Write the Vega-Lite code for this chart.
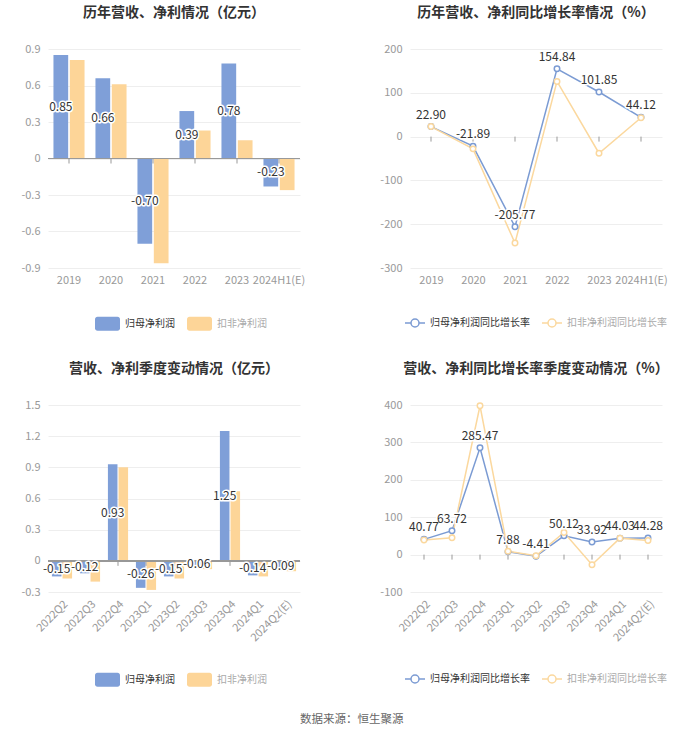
{
  "$schema": "https://vega.github.io/schema/vega-lite/v6.json",
  "background": "white",
  "padding": {"left": 20, "top": 6, "right": 5, "bottom": 5},
  "title": {"text": "数据来源：恒生聚源", "orient": "bottom", "anchor": "middle", "fontSize": 11.5, "fontWeight": "normal", "color": "#666", "offset": 27, "dx": 7},
  "datasets": {
    "tl": [
      {"p": "2019", "s": "归母净利润", "v": 0.85},
      {"p": "2020", "s": "归母净利润", "v": 0.66},
      {"p": "2021", "s": "归母净利润", "v": -0.70},
      {"p": "2022", "s": "归母净利润", "v": 0.39},
      {"p": "2023", "s": "归母净利润", "v": 0.78},
      {"p": "2024H1(E)", "s": "归母净利润", "v": -0.23},
      {"p": "2019", "s": "扣非净利润", "v": 0.81},
      {"p": "2020", "s": "扣非净利润", "v": 0.61},
      {"p": "2021", "s": "扣非净利润", "v": -0.86},
      {"p": "2022", "s": "扣非净利润", "v": 0.23},
      {"p": "2023", "s": "扣非净利润", "v": 0.15},
      {"p": "2024H1(E)", "s": "扣非净利润", "v": -0.26}
    ],
    "tr": [
      {"p": "2019", "s": "归母净利润同比增长率", "v": 22.90},
      {"p": "2020", "s": "归母净利润同比增长率", "v": -21.89},
      {"p": "2021", "s": "归母净利润同比增长率", "v": -205.77},
      {"p": "2022", "s": "归母净利润同比增长率", "v": 154.84},
      {"p": "2023", "s": "归母净利润同比增长率", "v": 101.85},
      {"p": "2024H1(E)", "s": "归母净利润同比增长率", "v": 44.12},
      {"p": "2019", "s": "扣非净利润同比增长率", "v": 22.9},
      {"p": "2020", "s": "扣非净利润同比增长率", "v": -28},
      {"p": "2021", "s": "扣非净利润同比增长率", "v": -243},
      {"p": "2022", "s": "扣非净利润同比增长率", "v": 126},
      {"p": "2023", "s": "扣非净利润同比增长率", "v": -38},
      {"p": "2024H1(E)", "s": "扣非净利润同比增长率", "v": 43}
    ],
    "bl": [
      {"p": "2022Q2", "s": "归母净利润", "v": -0.15},
      {"p": "2022Q3", "s": "归母净利润", "v": -0.12},
      {"p": "2022Q4", "s": "归母净利润", "v": 0.93},
      {"p": "2023Q1", "s": "归母净利润", "v": -0.26},
      {"p": "2023Q2", "s": "归母净利润", "v": -0.15},
      {"p": "2023Q3", "s": "归母净利润", "v": -0.06},
      {"p": "2023Q4", "s": "归母净利润", "v": 1.25},
      {"p": "2024Q1", "s": "归母净利润", "v": -0.14},
      {"p": "2024Q2(E)", "s": "归母净利润", "v": -0.09},
      {"p": "2022Q2", "s": "扣非净利润", "v": -0.17},
      {"p": "2022Q3", "s": "扣非净利润", "v": -0.20},
      {"p": "2022Q4", "s": "扣非净利润", "v": 0.90},
      {"p": "2023Q1", "s": "扣非净利润", "v": -0.28},
      {"p": "2023Q2", "s": "扣非净利润", "v": -0.17},
      {"p": "2023Q3", "s": "扣非净利润", "v": -0.08},
      {"p": "2023Q4", "s": "扣非净利润", "v": 0.67},
      {"p": "2024Q1", "s": "扣非净利润", "v": -0.15},
      {"p": "2024Q2(E)", "s": "扣非净利润", "v": -0.10}
    ],
    "br": [
      {"p": "2022Q2", "s": "归母净利润同比增长率", "v": 40.77},
      {"p": "2022Q3", "s": "归母净利润同比增长率", "v": 63.72},
      {"p": "2022Q4", "s": "归母净利润同比增长率", "v": 285.47},
      {"p": "2023Q1", "s": "归母净利润同比增长率", "v": 7.88},
      {"p": "2023Q2", "s": "归母净利润同比增长率", "v": -4.41},
      {"p": "2023Q3", "s": "归母净利润同比增长率", "v": 50.12},
      {"p": "2023Q4", "s": "归母净利润同比增长率", "v": 33.92},
      {"p": "2024Q1", "s": "归母净利润同比增长率", "v": 44.03},
      {"p": "2024Q2(E)", "s": "归母净利润同比增长率", "v": 44.28},
      {"p": "2022Q2", "s": "扣非净利润同比增长率", "v": 39},
      {"p": "2022Q3", "s": "扣非净利润同比增长率", "v": 45},
      {"p": "2022Q4", "s": "扣非净利润同比增长率", "v": 398},
      {"p": "2023Q1", "s": "扣非净利润同比增长率", "v": 9},
      {"p": "2023Q2", "s": "扣非净利润同比增长率", "v": -3},
      {"p": "2023Q3", "s": "扣非净利润同比增长率", "v": 59},
      {"p": "2023Q4", "s": "扣非净利润同比增长率", "v": -27},
      {"p": "2024Q1", "s": "扣非净利润同比增长率", "v": 44},
      {"p": "2024Q2(E)", "s": "扣非净利润同比增长率", "v": 38}
    ]
  },
  "columns": 2,
  "concat": [
    {
      "title": "历年营收、净利情况（亿元）",
      "width": 252, "height": 219,
      "data": {"name": "tl"},
      "layer": [
        {"layer": [
          {"mark": {"type": "bar"},
           "encoding": {
             "x": {"field": "p", "type": "nominal", "sort": null, "scale": {"paddingInner": 0.26, "paddingOuter": 0.13}, "axis": {"title": null, "labelAngle": 0}},
             "xOffset": {"field": "s", "type": "nominal", "sort": ["归母净利润", "扣非净利润"], "scale": {"paddingInner": 0.1}},
             "y": {"field": "v", "type": "quantitative", "scale": {"domain": [-0.9, 0.9], "nice": false}, "axis": {"title": null, "values": [-0.9, -0.6, -0.3, 0, 0.3, 0.6, 0.9], "tickCount": 20, "labelExpr": "toString(datum.value)", "labelOverlap": false}},
             "color": {"field": "s", "type": "nominal", "sort": ["归母净利润", "扣非净利润"], "scale": {"domain": ["归母净利润", "扣非净利润"], "range": ["#7f9fd8", "#fdd598"]},
               "legend": {"title": null, "orient": "none", "legendX": 46, "legendY": 261, "direction": "horizontal", "symbolType": "M-0.8,-0.56H0.8A0.2,0.2,0,0,1,1,-0.36V0.36A0.2,0.2,0,0,1,0.8,0.56H-0.8A0.2,0.2,0,0,1,-1,0.36V-0.36A0.2,0.2,0,0,1,-0.8,-0.56Z", "symbolSize": 625, "symbolOpacity": 1, "labelFontSize": 10, "labelOffset": 4, "columnPadding": 11, "labelColor": {"expr": "datum.value === '扣非净利润' ? '#aaa' : '#333'"}}}
           }},
          {"mark": {"type": "rule", "color": "#999", "strokeWidth": 1}, "encoding": {"y": {"datum": 0, "type": "quantitative"}}},
          {"transform": [{"filter": "datum.s === '归母净利润'"}],
           "mark": {"type": "point", "shape": "M0,0V1", "size": 100, "stroke": "#999", "strokeWidth": 1, "filled": false, "opacity": 1},
           "encoding": {"x": {"field": "p", "type": "nominal", "sort": null}, "y": {"datum": 0, "type": "quantitative"}}}
        ]},
        {"transform": [{"filter": "datum.s === '归母净利润'"}],
         "encoding": {
           "x": {"field": "p", "type": "nominal", "sort": null},
           "xOffset": {"field": "s", "type": "nominal", "sort": ["归母净利润", "扣非净利润"]},
           "y": {"field": "v", "type": "quantitative", "scale": {"domain": [-1.8, 1.8], "nice": false}, "axis": null},
           "text": {"field": "v", "type": "quantitative", "format": ".2f"}
         },
         "layer": [
           {"mark": {"type": "text", "fontSize": 12, "fill": "white", "stroke": "white", "strokeWidth": 3, "strokeJoin": "round"}},
           {"mark": {"type": "text", "fontSize": 12, "fill": "#333"}}
         ]}
      ],
      "resolve": {"scale": {"y": "independent"}}
    },
    {
      "title": "历年营收、净利同比增长率情况（%）",
      "width": 252, "height": 219,
      "data": {"name": "tr"},
      "encoding": {
        "x": {"field": "p", "type": "nominal", "sort": null, "scale": {"type": "point", "padding": 0.5}, "axis": {"title": null, "labelAngle": 0}}
      },
      "layer": [
        {"mark": {"type": "rule", "color": "#999", "strokeWidth": 1}, "encoding": {"y": {"datum": 0, "type": "quantitative", "scale": {"domain": [-300, 200], "nice": false}, "axis": {"title": null, "values": [-300, -200, -100, 0, 100, 200], "tickCount": 20, "labelExpr": "toString(datum.value)", "labelOverlap": false}}}},
        {"transform": [{"filter": "datum.s === '归母净利润同比增长率'"}],
         "mark": {"type": "point", "shape": "M0,0V1", "size": 100, "stroke": "#999", "strokeWidth": 1, "filled": false, "opacity": 1},
         "encoding": {"y": {"datum": 0, "type": "quantitative"}}},
        {"mark": {"type": "line", "strokeWidth": 1.5},
         "encoding": {
           "y": {"field": "v", "type": "quantitative"},
           "color": {"field": "s", "type": "nominal", "sort": ["归母净利润同比增长率", "扣非净利润同比增长率"], "scale": {"domain": ["归母净利润同比增长率", "扣非净利润同比增长率"], "range": ["#7b9bd3", "#fbd89e"]},
             "legend": {"title": null, "orient": "none", "legendX": -6, "legendY": 263, "direction": "horizontal", "symbolType": "M-1,0H-0.4M0.4,0H1M-0.4,0A0.4,0.4,0,1,0,0.4,0A0.4,0.4,0,1,0,-0.4,0", "symbolSize": 400, "symbolStrokeWidth": 1.5, "symbolFillColor": "white", "labelFontSize": 10, "labelOffset": 4, "columnPadding": 9, "labelColor": {"expr": "datum.value === '扣非净利润同比增长率' ? '#aaa' : '#333'"}}}
         }},
        {"mark": {"type": "point", "filled": false, "fill": "white", "size": 30, "strokeWidth": 1.5, "opacity": 1},
         "encoding": {
           "y": {"field": "v", "type": "quantitative"},
           "color": {"field": "s", "type": "nominal", "sort": ["归母净利润同比增长率", "扣非净利润同比增长率"]}
         }},
        {"transform": [{"filter": "datum.s === '归母净利润同比增长率'"}],
         "encoding": {
           "y": {"field": "v", "type": "quantitative"},
           "text": {"field": "v", "type": "quantitative", "format": ".2f"}
         },
         "layer": [
           {"mark": {"type": "text", "fontSize": 12, "baseline": "bottom", "dy": -5, "fill": "white", "stroke": "white", "strokeWidth": 3, "strokeJoin": "round"}},
           {"mark": {"type": "text", "fontSize": 12, "baseline": "bottom", "dy": -5, "fill": "#333"}}
         ]}
      ]
    },
    {
      "title": "营收、净利季度变动情况（亿元）",
      "width": 252, "height": 187,
      "data": {"name": "bl"},
      "layer": [
        {"layer": [
          {"mark": {"type": "bar"},
           "encoding": {
             "x": {"field": "p", "type": "nominal", "sort": null, "scale": {"paddingInner": 0.28, "paddingOuter": 0.14}, "axis": {"title": null, "labelAngle": -45}},
             "xOffset": {"field": "s", "type": "nominal", "sort": ["归母净利润", "扣非净利润"], "scale": {"paddingInner": 0.1}},
             "y": {"field": "v", "type": "quantitative", "scale": {"domain": [-0.3, 1.5], "nice": false}, "axis": {"title": null, "values": [-0.3, 0, 0.3, 0.6, 0.9, 1.2, 1.5], "tickCount": 20, "labelExpr": "toString(datum.value)", "labelOverlap": false}},
             "color": {"field": "s", "type": "nominal", "sort": ["归母净利润", "扣非净利润"], "scale": {"domain": ["归母净利润", "扣非净利润"], "range": ["#7f9fd8", "#fdd598"]},
               "legend": {"title": null, "orient": "none", "legendX": 46, "legendY": 261, "direction": "horizontal", "symbolType": "M-0.8,-0.56H0.8A0.2,0.2,0,0,1,1,-0.36V0.36A0.2,0.2,0,0,1,0.8,0.56H-0.8A0.2,0.2,0,0,1,-1,0.36V-0.36A0.2,0.2,0,0,1,-0.8,-0.56Z", "symbolSize": 625, "symbolOpacity": 1, "labelFontSize": 10, "labelOffset": 4, "columnPadding": 11, "labelColor": {"expr": "datum.value === '扣非净利润' ? '#aaa' : '#333'"}}}
           }},
          {"mark": {"type": "rule", "color": "#999", "strokeWidth": 1}, "encoding": {"y": {"datum": 0, "type": "quantitative"}}},
          {"transform": [{"filter": "datum.s === '归母净利润'"}],
           "mark": {"type": "point", "shape": "M0,0V1", "size": 100, "stroke": "#999", "strokeWidth": 1, "filled": false, "opacity": 1},
           "encoding": {"x": {"field": "p", "type": "nominal", "sort": null}, "y": {"datum": 0, "type": "quantitative"}}}
        ]},
        {"transform": [{"filter": "datum.s === '归母净利润'"}],
         "encoding": {
           "x": {"field": "p", "type": "nominal", "sort": null},
           "xOffset": {"field": "s", "type": "nominal", "sort": ["归母净利润", "扣非净利润"]},
           "y": {"field": "v", "type": "quantitative", "scale": {"domain": [-0.6, 3.0], "nice": false}, "axis": null},
           "text": {"field": "v", "type": "quantitative", "format": ".2f"}
         },
         "layer": [
           {"mark": {"type": "text", "fontSize": 12, "fill": "white", "stroke": "white", "strokeWidth": 3, "strokeJoin": "round"}},
           {"mark": {"type": "text", "fontSize": 12, "fill": "#333"}}
         ]}
      ],
      "resolve": {"scale": {"y": "independent"}}
    },
    {
      "title": "营收、净利同比增长率季度变动情况（%）",
      "width": 252, "height": 187,
      "data": {"name": "br"},
      "encoding": {
        "x": {"field": "p", "type": "nominal", "sort": null, "scale": {"type": "point", "padding": 0.5}, "axis": {"title": null, "labelAngle": -45}}
      },
      "layer": [
        {"mark": {"type": "rule", "color": "#999", "strokeWidth": 1}, "encoding": {"y": {"datum": 0, "type": "quantitative", "scale": {"domain": [-100, 400], "nice": false}, "axis": {"title": null, "values": [-100, 0, 100, 200, 300, 400], "tickCount": 20, "labelExpr": "toString(datum.value)", "labelOverlap": false}}}},
        {"transform": [{"filter": "datum.s === '归母净利润同比增长率'"}],
         "mark": {"type": "point", "shape": "M0,0V1", "size": 100, "stroke": "#999", "strokeWidth": 1, "filled": false, "opacity": 1},
         "encoding": {"y": {"datum": 0, "type": "quantitative"}}},
        {"mark": {"type": "line", "strokeWidth": 1.5},
         "encoding": {
           "y": {"field": "v", "type": "quantitative"},
           "color": {"field": "s", "type": "nominal", "sort": ["归母净利润同比增长率", "扣非净利润同比增长率"], "scale": {"domain": ["归母净利润同比增长率", "扣非净利润同比增长率"], "range": ["#7b9bd3", "#fbd89e"]},
             "legend": {"title": null, "orient": "none", "legendX": -6, "legendY": 263, "direction": "horizontal", "symbolType": "M-1,0H-0.4M0.4,0H1M-0.4,0A0.4,0.4,0,1,0,0.4,0A0.4,0.4,0,1,0,-0.4,0", "symbolSize": 400, "symbolStrokeWidth": 1.5, "symbolFillColor": "white", "labelFontSize": 10, "labelOffset": 4, "columnPadding": 9, "labelColor": {"expr": "datum.value === '扣非净利润同比增长率' ? '#aaa' : '#333'"}}}
         }},
        {"mark": {"type": "point", "filled": false, "fill": "white", "size": 30, "strokeWidth": 1.5, "opacity": 1},
         "encoding": {
           "y": {"field": "v", "type": "quantitative"},
           "color": {"field": "s", "type": "nominal", "sort": ["归母净利润同比增长率", "扣非净利润同比增长率"]}
         }},
        {"transform": [{"filter": "datum.s === '归母净利润同比增长率'"}],
         "encoding": {
           "y": {"field": "v", "type": "quantitative"},
           "text": {"field": "v", "type": "quantitative", "format": ".2f"}
         },
         "layer": [
           {"mark": {"type": "text", "fontSize": 12, "baseline": "bottom", "dy": -5, "fill": "white", "stroke": "white", "strokeWidth": 3, "strokeJoin": "round"}},
           {"mark": {"type": "text", "fontSize": 12, "baseline": "bottom", "dy": -5, "fill": "#333"}}
         ]}
      ]
    }
  ],
  "spacing": {"row": 137, "column": 110},
  "bounds": "flush",
  "resolve": {"scale": {"color": "independent", "xOffset": "independent"}, "legend": {"color": "independent"}},
  "config": {
    "font": "Noto Sans CJK SC",
    "view": {"stroke": null},
    "axis": {"labelColor": "#999", "labelFontSize": 11, "domain": false, "ticks": false, "gridColor": "#eeeeee", "labelFont": "Noto Sans CJK SC", "labelOverlap": false},
    "axisX": {"grid": false, "labelPadding": 6},
    "axisY": {"grid": true, "labelPadding": 8, "labelOverlap": false},
    "title": {"fontSize": 14, "fontWeight": "bold", "color": "#333", "offset": 23, "anchor": "middle", "font": "Noto Sans CJK SC"},
    "legend": {"labelFont": "Noto Sans CJK SC", "padding": 0},
    "text": {"font": "Noto Sans CJK SC"},
    "locale": {"number": {"decimal": ".", "thousands": ",", "grouping": [3], "currency": ["", ""], "minus": "-"}}
  }
}
